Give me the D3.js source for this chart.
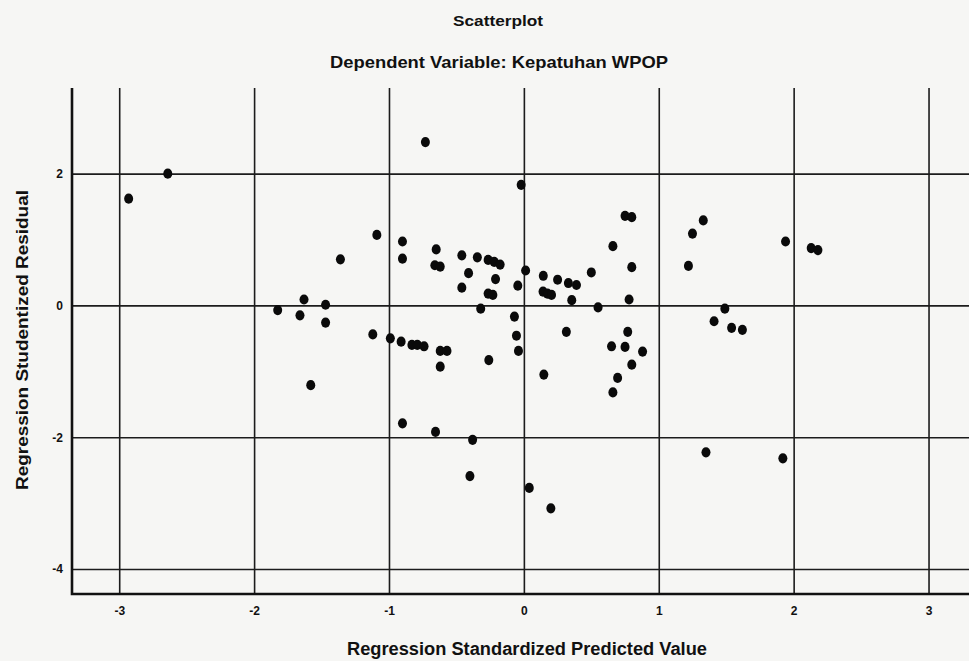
<!DOCTYPE html>
<html>
<head>
<meta charset="utf-8">
<title>Scatterplot</title>
<script src="https://cdn.jsdelivr.net/npm/d3@7"></script>
<style>
  body { margin: 0; background: #f6f6f4; }
  .title { font-family: "Liberation Sans Narrow", "Arial Narrow", "Liberation Sans", sans-serif; font-weight: bold; fill: #111; text-anchor: middle; }
  .axis text { font-family: "Liberation Sans Narrow", "Arial Narrow", "Liberation Sans", sans-serif; font-weight: bold; font-size: 12px; fill: #111; }
  .grid line { stroke: #1c1c1c; stroke-width: 1.6; }
  .grid path { display: none; }
  .frame { stroke: #111; stroke-width: 2.6; fill: none; }
</style>
</head>
<body>
<script>
// canvas
var width = 969;
var height = 661;

// data (standardized predicted value, studentized residual)
var predicted = [
  -2.93, -2.64, -0.73, -0.02, -1.09, -1.36, -0.90, -0.90, -0.65, -0.66,
  -0.62, -0.46, -0.345, -0.265, -0.22, -0.176, 0.013, -0.41, -0.21, -0.46,
  -0.265, -0.23, -0.045, 0.144, 0.25, 0.33, 0.39, 0.142, 0.175, 0.205,
  0.355, 0.50, 0.55, 0.66, 0.75, 0.80, 0.80, 0.78, -0.32, -0.07,
  -0.055, -0.04, 0.315, -0.26, 0.148, 0.77, 0.65, 0.75, 0.88, 0.80,
  0.695, 0.66, 1.33, 1.25, 1.22, 1.49, 1.41, 1.54, 1.62, 1.94,
  2.13, 2.18, -1.825, -1.63, -1.66, -1.47, -1.47, -1.58, -1.12, -0.99,
  -0.91, -0.83, -0.79, -0.74, -0.62, -0.57, -0.62, -0.90, -0.655, -0.38,
  -0.40, 0.04, 0.20, 1.35, 1.92
];
var residual = [
  1.62, 2.00, 2.48, 1.83, 1.07, 0.70, 0.97, 0.71, 0.85, 0.61,
  0.59, 0.76, 0.73, 0.69, 0.66, 0.62, 0.53, 0.49, 0.40, 0.27,
  0.18, 0.16, 0.30, 0.45, 0.39, 0.34, 0.31, 0.21, 0.18, 0.16,
  0.08, 0.50, -0.03, 0.90, 1.36, 1.34, 0.58, 0.09, -0.05, -0.17,
  -0.46, -0.69, -0.40, -0.83, -1.05, -0.40, -0.62, -0.63, -0.70, -0.90,
  -1.10, -1.32, 1.29, 1.09, 0.60, -0.05, -0.24, -0.34, -0.37, 0.97,
  0.87, 0.84, -0.07, 0.09, -0.15, 0.01, -0.26, -1.21, -0.44, -0.50,
  -0.55, -0.60, -0.60, -0.62, -0.69, -0.69, -0.93, -1.79, -1.92, -2.04,
  -2.59, -2.77, -3.08, -2.23, -2.32
];

// tick values
var xTicks = [-3, -2, -1, 0, 1, 2, 3];
var yTicks = [-4, -2, 0, 2];

var titleText = "Scatterplot";
var subtitleText = "Dependent Variable: Kepatuhan WPOP";
var xLabel = "Regression Standardized Predicted Value";
var yLabel = "Regression Studentized Residual";

// plot box
var plot = {left: 72, right: 969, top: 88, bottom: 594};

var svg = d3.select("body")
    .append("svg")
    .attr("width", width)
    .attr("height", height);

svg.append("rect")
    .attr("width", width)
    .attr("height", height)
    .attr("fill", "#f6f6f4");

var xScale = d3.scaleLinear()
    .domain([-3.35, 3.3])
    .range([plot.left, plot.right]);

var yScale = d3.scaleLinear()
    .domain([-4.38, 3.3])
    .range([plot.bottom, plot.top]);

// plain hyphen for negatives, as in the original
var tickFmt = function(d) { return String(d); };

// gridlines + tick labels
var xAxis = d3.axisBottom(xScale)
    .tickValues(xTicks)
    .tickSizeInner(-(plot.bottom - plot.top))
    .tickSizeOuter(0)
    .tickPadding(12)
    .tickFormat(tickFmt);

var yAxis = d3.axisLeft(yScale)
    .tickValues(yTicks)
    .tickSizeInner(-(plot.right - plot.left))
    .tickSizeOuter(0)
    .tickPadding(9)
    .tickFormat(tickFmt);

svg.append("g")
    .attr("class", "axis grid")
    .attr("transform", "translate(0," + plot.bottom + ")")
    .call(xAxis);

svg.append("g")
    .attr("class", "axis grid")
    .attr("transform", "translate(" + plot.left + ",0)")
    .call(yAxis);

// axis lines (left and bottom)
svg.append("path")
    .attr("class", "frame")
    .attr("d", "M" + plot.left + "," + plot.top + "V" + plot.bottom + "H" + plot.right);

// points
var points = d3.zip(predicted, residual);
svg.append("g")
    .selectAll("ellipse")
    .data(points)
    .enter()
    .append("ellipse")
    .attr("cx", function(d) { return xScale(d[0]); })
    .attr("cy", function(d) { return yScale(d[1]); })
    .attr("rx", 4.5)
    .attr("ry", 5.1)
    .attr("fill", "#0a0a0a");

// titles
svg.append("text")
    .attr("class", "title")
    .attr("x", 498)
    .attr("y", 26)
    .attr("font-size", 15)
    .attr("textLength", 90)
    .attr("lengthAdjust", "spacingAndGlyphs")
    .text(titleText);

svg.append("text")
    .attr("class", "title")
    .attr("x", 499)
    .attr("y", 68)
    .attr("font-size", 17)
    .attr("textLength", 338)
    .attr("lengthAdjust", "spacingAndGlyphs")
    .text(subtitleText);

svg.append("text")
    .attr("class", "title")
    .attr("x", 527)
    .attr("y", 655)
    .attr("font-size", 18)
    .attr("textLength", 360)
    .attr("lengthAdjust", "spacingAndGlyphs")
    .text(xLabel);

svg.append("text")
    .attr("transform", "translate(28,340) rotate(-90)")
    .attr("text-anchor", "middle")
    .attr("font-family", "Liberation Sans, Arial, sans-serif")
    .attr("font-weight", "bold")
    .attr("font-size", 17)
    .attr("fill", "#111")
    .attr("textLength", 300)
    .attr("lengthAdjust", "spacingAndGlyphs")
    .text(yLabel);
</script>
</body>
</html>
